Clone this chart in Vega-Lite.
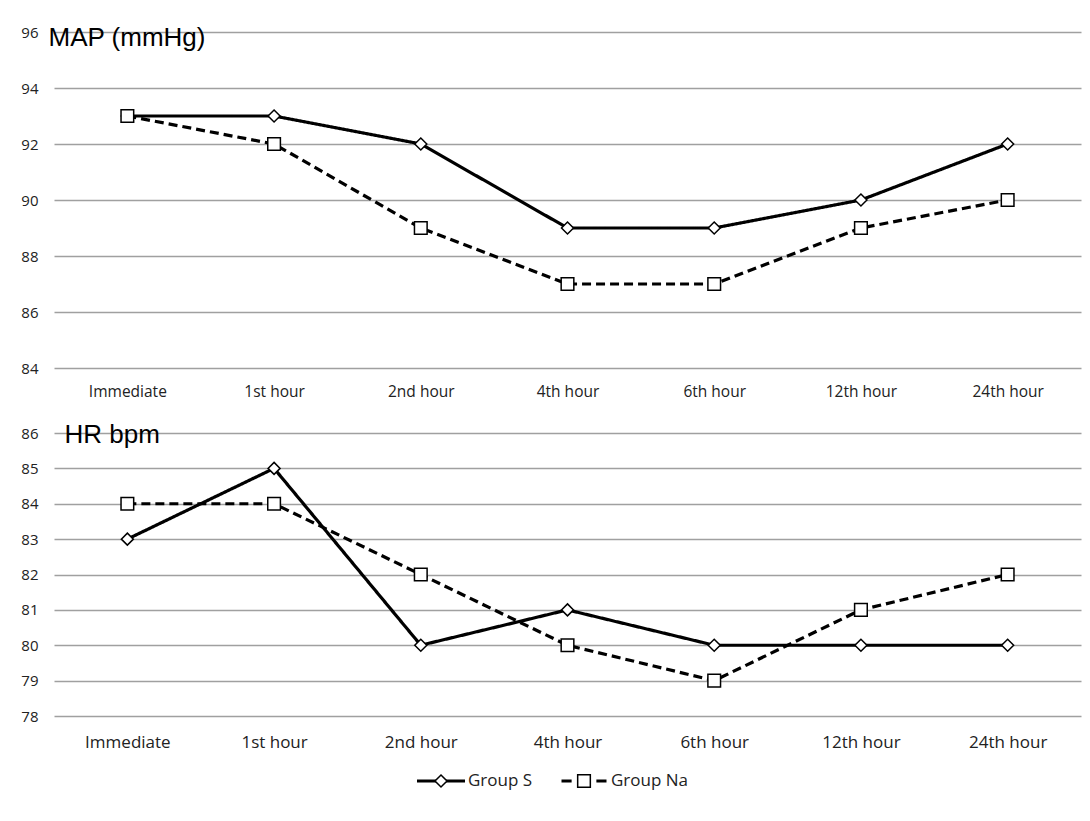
{
  "$schema": "https://vega.github.io/schema/vega-lite/v6.json",
  "padding": {"left": 20, "top": 24, "right": 6, "bottom": 10},
  "background": "white",
  "config": {"view": {"stroke": null}, "font": "Open Sans", "axisY": {"labelOverlap": false}},
  "datasets": {
    "d": [
      {"time": "Immediate", "group": "Group S", "MAP": 93, "HR": 83},
      {"time": "1st hour", "group": "Group S", "MAP": 93, "HR": 85},
      {"time": "2nd hour", "group": "Group S", "MAP": 92, "HR": 80},
      {"time": "4th hour", "group": "Group S", "MAP": 89, "HR": 81},
      {"time": "6th  hour", "group": "Group S", "MAP": 89, "HR": 80},
      {"time": "12th hour", "group": "Group S", "MAP": 90, "HR": 80},
      {"time": "24th hour", "group": "Group S", "MAP": 92, "HR": 80},
      {"time": "Immediate", "group": "Group Na", "MAP": 93, "HR": 84},
      {"time": "1st hour", "group": "Group Na", "MAP": 92, "HR": 84},
      {"time": "2nd hour", "group": "Group Na", "MAP": 89, "HR": 82},
      {"time": "4th hour", "group": "Group Na", "MAP": 87, "HR": 80},
      {"time": "6th  hour", "group": "Group Na", "MAP": 87, "HR": 79},
      {"time": "12th hour", "group": "Group Na", "MAP": 89, "HR": 81},
      {"time": "24th hour", "group": "Group Na", "MAP": 90, "HR": 82}
    ]
  },
  "resolve": {
    "scale": {"shape": "independent", "strokeDash": "independent"},
    "legend": {"shape": "independent", "strokeDash": "independent"}
  },
  "spacing": 21,
  "vconcat": [
    {
      "width": 1027,
      "height": 336,
      "data": {"name": "d"},
      "encoding": {
        "x": {"field": "time", "type": "nominal", "sort": ["Immediate", "1st hour", "2nd hour", "4th hour", "6th  hour", "12th hour", "24th hour"], "scale": {"type": "point", "padding": 0.5},
          "axis": {"title": null, "domain": false, "ticks": false, "labelAngle": 0, "labelFontSize": 15.5, "labelPadding": 16, "labelColor": "#222", "grid": false}},
        "y": {"field": "MAP", "type": "quantitative", "scale": {"domain": [84, 96]},
          "axis": {"title": "MAP (mmHg)", "titleAngle": 0, "titleX": -6, "titleY": 5, "titleAlign": "left", "titleBaseline": "middle", "titleFont": "Liberation Sans", "titleFontSize": 26, "titleFontWeight": "normal", "titleColor": "black",
            "values": [84, 86, 88, 90, 92, 94, 96], "labelOverlap": false, "domain": false, "ticks": false, "grid": true, "gridColor": "#a0a0a0", "gridWidth": 1.3, "labelFontSize": 15, "labelPadding": 16, "labelColor": "#222"}}
      },
      "layer": [
        {
          "mark": {"type": "line", "strokeWidth": 3.2, "color": "black"},
          "encoding": {
            "strokeDash": {"field": "group", "type": "nominal", "scale": {"domain": ["Group S", "Group Na"], "range": [[1, 0], [9, 5]]}, "legend": null}
          }
        },
        {
          "mark": {"type": "point", "filled": true, "fill": "white", "stroke": "black", "strokeWidth": 1.5, "opacity": 1, "size": 160},
          "encoding": {
            "shape": {"field": "group", "type": "nominal", "scale": {"domain": ["Group S", "Group Na"], "range": ["M0,-0.95L0.95,0L0,0.95L-0.95,0Z", "M-1,-1H1V1H-1Z"]}, "legend": null}
          }
        }
      ]
    },
    {
      "width": 1027,
      "height": 283,
      "data": {"name": "d"},
      "encoding": {
        "x": {"field": "time", "type": "nominal", "sort": ["Immediate", "1st hour", "2nd hour", "4th hour", "6th  hour", "12th hour", "24th hour"], "scale": {"type": "point", "padding": 0.5},
          "axis": {"title": null, "domain": false, "ticks": false, "labelAngle": 0, "labelFontSize": 17, "labelPadding": 18, "labelColor": "#222", "grid": false}},
        "y": {"field": "HR", "type": "quantitative", "scale": {"domain": [78, 86]},
          "axis": {"title": "HR bpm", "titleAngle": 0, "titleX": 10, "titleY": 1, "titleAlign": "left", "titleBaseline": "middle", "titleFont": "Liberation Sans", "titleFontSize": 26, "titleFontWeight": "normal", "titleColor": "black",
            "values": [78, 79, 80, 81, 82, 83, 84, 85, 86], "labelOverlap": false, "domain": false, "ticks": false, "grid": true, "gridColor": "#a0a0a0", "gridWidth": 1.3, "labelFontSize": 15, "labelPadding": 16, "labelColor": "#222"}}
      },
      "layer": [
        {
          "mark": {"type": "line", "strokeWidth": 3.2, "color": "black"},
          "encoding": {
            "strokeDash": {"field": "group", "type": "nominal", "scale": {"domain": ["Group S", "Group Na"], "range": [[1, 0], [9, 5]]}, "legend": null}
          }
        },
        {
          "mark": {"type": "point", "filled": true, "fill": "white", "stroke": "black", "strokeWidth": 1.5, "opacity": 1, "size": 160},
          "encoding": {
            "shape": {"field": "group", "type": "nominal", "scale": {"domain": ["Group S", "Group Na"], "range": ["M0,-0.95L0.95,0L0,0.95L-0.95,0Z", "M-1,-1H1V1H-1Z"]}, "legend": null}
          }
        }
      ]
    },
    {
      "width": 1027,
      "height": 20,
      "data": {"name": "d"},
      "transform": [{"filter": "datum.time === 'Immediate'"}],
      "encoding": {
        "x": {"field": "group", "type": "nominal", "sort": ["Group S", "Group Na"], "scale": {"type": "point", "padding": 0, "range": [387, 530]}, "axis": null}
      },
      "layer": [
        {
          "transform": [{"filter": "datum.group === 'Group S'"}],
          "mark": {"type": "point", "shape": "M-1,0H1", "size": 2304, "filled": false, "stroke": "black", "strokeWidth": 3.2, "opacity": 1}
        },
        {
          "transform": [{"filter": "datum.group === 'Group Na'"}],
          "mark": {"type": "point", "shape": "M-1,0H-0.55M0.55,0H1", "size": 2025, "filled": false, "stroke": "black", "strokeWidth": 3.2, "opacity": 1}
        },
        {
          "mark": {"type": "point", "filled": true, "fill": "white", "stroke": "black", "strokeWidth": 1.5, "opacity": 1, "size": 160},
          "encoding": {
            "shape": {"field": "group", "type": "nominal", "scale": {"domain": ["Group S", "Group Na"], "range": ["M0,-0.95L0.95,0L0,0.95L-0.95,0Z", "M-1,-1H1V1H-1Z"]}, "legend": null}
          }
        },
        {
          "mark": {"type": "text", "align": "left", "baseline": "middle", "dx": 27, "fontSize": 17, "color": "#222"},
          "encoding": {
            "text": {"field": "group", "type": "nominal"}
          }
        }
      ]
    }
  ]
}
